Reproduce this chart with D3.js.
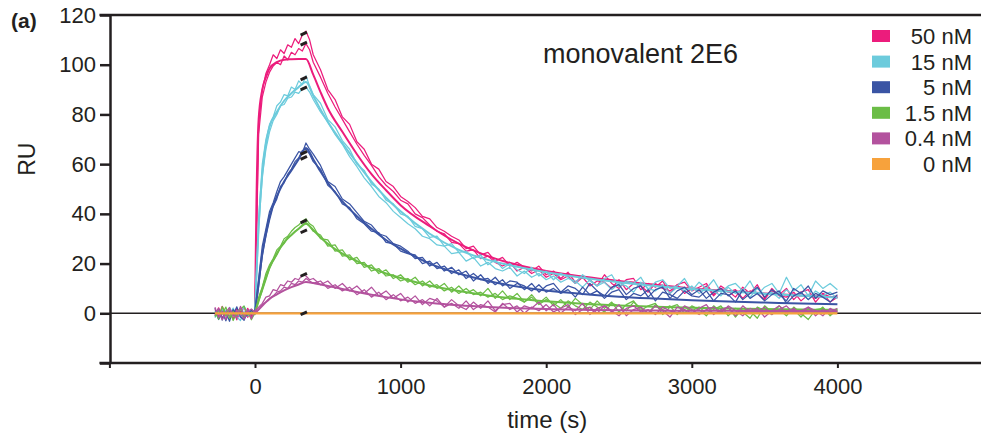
<!DOCTYPE html>
<html lang="en">
<head>
<meta charset="UTF-8">
<title>monovalent 2E6</title>
<script src="https://d3js.org/d3.v7.min.js"></script>
<style>
    body {
        margin: 0;
        background: #fff;
    }
    svg {
        display: block;
        font-family: 'Liberation Sans', Arial, sans-serif;
    }
    .trace {
        fill: none;
        stroke-linejoin: round;
    }
    .fit {
        fill: none;
        stroke-width: 2;
    }
</style>
</head>
<body>
<div id="chart"></div>
<script>
// Categories and colours
const concentrations = ['50 nM', '15 nM', '5 nM', '1.5 nM', '0.4 nM', '0 nM'];
const colors = ['#ec1c7c', '#6ccbdc', '#3a54a4', '#6bbd46', '#b3529e', '#f7a23c'];

// Axis ticks
const xTicks = [-1000, 0, 1000, 2000, 3000, 4000];
const xTickLabels = ['', '0', '1000', '2000', '3000', '4000'];
const yTicks = [-20, 0, 20, 40, 60, 80, 100, 120];
const yTickLabels = ['', '0', '20', '40', '60', '80', '100', '120'];

// Sampling clock of the raw traces (s): 25 s steps to the end of injection, then 50 s
const traceTimes = d3.range(-275, 400, 25).concat(d3.range(400, 4001, 50));

// Raw sensorgrams, two replicates per concentration (RU)
const trace50a = [
    1.5, -1.2, 2.8, -0.5, 0.8, -2.4, 1.9, 0.2, 2.5, -1.6, 1.1,
    1.0, 76, 90, 96.5, 100, 104, 102.5, 106, 104.5, 108, 107, 110.5, 108.5, 112, 113.5, 110,
    104, 98, 90, 86, 79, 76, 69, 66, 60, 58, 53, 51, 47,
    45, 42.5, 39, 38, 34.5, 33, 31, 29.5, 26, 27, 23.5, 24.5, 21, 22.5, 19, 20.5, 18.5, 17, 19, 15.5,
    17, 14, 16.5, 12.5, 15, 13.5, 11, 15.5, 12, 10, 13.5, 14, 9.5, 12, 10.5, 13, 8, 11.5, 12.5, 9,
    10.5, 12, 7.5, 11, 9, 6.5, 10.5, 8, 11.5, 6, 9, 7.5, 10, 5.5, 8.5, 9.5, 4.5, 8, 6.5, 7
];
const trace50b = [
    -0.8, 2.2, -1.9, 0.6, -1.1, 1.4, -2.6, 0.9, -0.5, 2.0, -1.3,
    0.5, 72, 87, 93, 97, 99.5, 101, 100, 103.5, 102, 105, 104, 106.5, 105.5, 108.5, 106,
    101, 95, 88.5, 83, 78, 73, 68, 63.5, 59.5, 55, 51.5, 49, 45.5,
    44, 40, 38.5, 35.5, 33, 32, 28.5, 28, 25, 25.5, 22, 23, 20.5, 19, 20.5, 17, 18.5, 16, 17.5, 14.5,
    16, 13.5, 15, 12, 14.5, 11, 13, 12.5, 10, 13.5, 9.5, 12, 11, 8.5, 12, 10, 9, 11.5, 8, 10,
    9, 11, 7, 10, 8.5, 9.5, 6, 9, 8, 5.5, 10, 7, 6.5, 8.5, 5, 7.5, 6, 8, 4.5, 6.5
];
const trace15a = [
    -1.8, 0.9, -2.8, 1.4, -0.6, 2.1, -1.5, -2.9, 0.7, -1.0, 1.6,
    0.3, 38, 60, 70, 76, 79, 83.5, 85, 88, 87.5, 91, 90, 93.5, 92, 95.5, 91.5,
    88, 84.5, 78, 75, 69.5, 66, 60, 57.5, 52, 50, 45.5, 44, 40,
    39, 35, 34, 30.5, 31, 27, 28, 24.5, 25, 22, 23.5, 19.5, 21.5, 18, 20, 17.5, 16, 18.5, 15, 17,
    13.5, 16, 14.5, 12, 15.5, 13, 11, 14, 15.5, 10.5, 13, 12, 14.5, 9.5, 12.5, 13.5, 10, 11, 14, 9,
    12.5, 10, 13.5, 8.5, 11, 12, 9, 13, 7.5, 10.5, 12, 8, 14.5, 9, 11.5, 7, 13, 10, 12, 9.5
];
const trace15b = [
    0.8, -2.2, 1.7, -1.3, 2.4, -0.9, 0.4, -1.7, 2.9, -0.3, -1.9,
    0.0, 34, 55, 66, 73, 77.5, 80, 83.5, 84, 86.5, 87, 89, 88.5, 90.5, 91, 89,
    86, 81, 77, 72, 68, 63, 59, 54.5, 51, 47, 44.5, 41, 38.5,
    36, 34, 31, 30, 27.5, 27, 24, 24.5, 21, 22.5, 19, 20.5, 18, 17, 18.5, 15, 17, 14.5, 16, 13.5,
    15, 12.5, 14, 13, 10.5, 13.5, 11, 12.5, 9.5, 12, 11, 8.5, 12.5, 10, 9, 11.5, 8, 10.5, 9, 11,
    8, 10, 9, 7, 10.5, 8, 9.5, 6.5, 10, 7.5, 8.5, 6, 9.5, 7, 8, 5.5, 9, 7, 8.5, 6
];
const trace5a = [
    2.1, -2.5, 0.4, -3.0, 1.2, -0.7, 2.6, -1.4, -2.8, 0.9, -0.4,
    0.8, 14, 27, 34, 41, 44.5, 49, 53, 55, 57.5, 60, 62.5, 65, 64.5, 68.5, 66,
    64, 59.5, 53, 51, 46, 44, 40.5, 37, 35.5, 32, 31, 28, 27,
    25, 22, 22.5, 19, 20.5, 17, 18.5, 15.5, 17, 13, 15.5, 12, 14.5, 11, 13, 12.5, 9.5, 12, 8.5, 11,
    12, 8.5, 11, 10, 7.5, 12, 9, 7, 10.5, 11.5, 7.5, 10, 11, 6.5, 9.5, 10.5, 6, 9, 10.5, 7.5,
    9.5, 6, 8.5, 10, 7, 9, 5.5, 8, 10.5, 6.5, 9.5, 7.5, 5, 10, 8, 11, 6, 9, 7.5, 8.5
];
const trace5b = [
    -1.1, 1.8, -2.2, 0.5, -3.2, 1.5, -0.3, 2.0, -1.8, -0.6, 1.3,
    -0.5, 11, 23, 31, 37.5, 43, 46, 51, 52.5, 56, 58, 61, 62.5, 65.5, 66, 64,
    61, 58, 51.5, 49, 44, 42.5, 38, 36, 33, 32.5, 28.5, 28, 25,
    24, 23.5, 20, 21, 18, 19, 16, 17.5, 14, 16, 13.5, 14, 11.5, 13.5, 10, 12, 11, 9, 11.5, 8.5,
    10, 8, 9.5, 6.5, 10.5, 7.5, 9, 6, 8.5, 9.5, 5.5, 8, 7, 9.5, 5, 8.5, 7.5, 6, 9, 7,
    6.5, 9, 5, 8, 7.5, 4.5, 9.5, 6, 8, 5, 7.5, 9, 4, 7, 8.5, 5.5, 8, 6.5, 4.5, 7.5
];
const trace1p5a = [
    0.6, -2.3, 2.7, -1.0, 1.8, -2.9, 0.3, 2.2, -1.5, 1.0, -2.6,
    0.2, 6.5, 10.5, 16, 19.5, 22, 25.5, 27, 30, 31, 33, 34.5, 35.5, 37, 38, 36,
    35, 30, 29.5, 25, 25.5, 21.5, 22.5, 18.5, 19.5, 16, 17.5, 14, 15.5,
    12.5, 14.5, 11, 13, 10, 12, 8.5, 11, 8, 9.5, 7, 10, 6, 9, 5.5, 8, 4.5, 7.5, 4, 6.5,
    3, 5.5, 2.5, 6, 3.5, 1.5, 5, 2, 4.5, 0.5, 3.5, 5, 1, 3, 4, -0.5, 2.5, 3.5, 0, 3,
    1.5, -1, 3, 0.5, 2.5, -1.5, 2, 1, -2, 3, 0.5, 1.5, -1, 2.5, 0, -2.5, 1.5, 2, -0.5, 1
];
const trace1p5b = [
    -1.4, 1.2, -0.2, 2.5, -2.0, 0.8, -1.1, 1.6, 2.9, -0.7, 0.4,
    0.5, 5, 9, 13.5, 18, 21, 23.5, 26.5, 28, 30.5, 31.5, 33, 34, 35.5, 36.5, 35,
    33, 31.5, 27, 27.5, 23, 23.5, 20, 20.5, 17, 18, 15, 15.5, 13,
    14, 11.5, 13, 10.5, 11.5, 9, 10.5, 8, 10, 7.5, 8.5, 6.5, 8, 5.5, 7, 6, 4.5, 6.5, 3.5, 5.5,
    4, 2, 5, 3, 1.5, 4.5, 2.5, 0.5, 4, 3, 1, 4.5, 2, 0, 3.5, 1.5, 3, -0.5, 2.5, 1,
    2.5, 0, 1.5, 3, -1, 2, 0.5, -2, 2.5, 1, -0.5, 3, 0.5, 1.5, -1.5, 2, 0, 2.5, -1, 1.5
];
const trace0p4a = [
    2.4, -1.7, 0.9, -2.5, 1.3, 0.1, -1.9, 2.8, -0.9, 1.5, -2.2,
    1, 2.5, 4, 6.5, 7, 9.5, 9, 11.5, 11, 13, 12.5, 14, 13.5, 15.5, 15, 13.5,
    14, 11.5, 13, 10, 12, 9, 11, 8, 10.5, 7, 9, 6, 8,
    4.5, 7, 3.5, 6, 5, 2.5, 5.5, 3, 1.5, 4.5, 2, 5, 1, 3.5, 4, 0.5, 3, 2, 4.5, 1,
    3.5, 0, 2.5, 1, 4, -0.5, 2, 3, 0.5, 3.5, -1, 1.5, 2.5, 0, 3, 1, -1.5, 2.5, 1.5, 0,
    2, 3.5, -0.5, 1.5, 2.5, -1, 3, 0.5, 2, -1.5, 1, 3, 0, 2, -0.5, 2.5, 1, -1, 2, 0.5
];
const trace0p4b = [
    -0.4, 1.9, -2.7, 0.6, 2.3, -1.2, 1.0, -0.2, -2.4, 0.8, 1.7,
    0.3, 1.5, 3.5, 4.5, 6, 7, 8.5, 9, 10.5, 10, 12, 11.5, 13, 12.5, 14, 13,
    12, 13, 10, 11.5, 9, 10.5, 7.5, 9.5, 6.5, 8.5, 5.5, 7.5, 5,
    6.5, 4, 5.5, 3, 6, 2.5, 4, 2, 5, 1.5, 3.5, 2.5, 0.5, 4, 1.5, 3, 0, 2.5, 1, 3.5,
    0.5, 2, 3.5, -0.5, 1.5, 2.5, 0, 3, 1, -1, 2, 3, 0.5, 1.5, -0.5, 2.5, 1, 0, 3, 1.5,
    -0.5, 1.5, 2.5, 0, 3, 1, -1, 2, 0.5, 2.5, -0.5, 1.5, 3, 0, 1, 2.5, -1, 1.5, 0.5, 2
];
const trace0Times = [-275, 4000];
const trace0 = [0, 0];

// Fitted curves (RU) on their own time grid (s)
const fitTimes = [0, 10, 25, 50, 75, 100, 150, 200, 250, 300, 350,
    400, 450, 500, 600, 700, 800, 900, 1000,
    1200, 1400, 1600, 1800, 2000,
    2250, 2500, 2750, 3000, 3250, 3500, 3750, 4000];
const fit50 = [0, 45, 78, 90, 95, 98.5, 101, 102, 102.2, 102.3, 102.3,
    96, 89, 82.5, 73, 64, 56, 49.5, 43.5,
    35, 28, 23, 19.5, 17,
    14.8, 13, 11.5, 10, 9, 8, 7.2, 6.5];
const fit15 = [0, 16, 35, 56, 68, 75, 81, 85.5, 88.5, 91, 93,
    87.5, 82, 77, 68.5, 60.5, 53, 46.5, 41,
    32, 25.5, 21.5, 18.7, 16.5,
    14.3, 12.5, 11, 9.8, 8.8, 7.9, 7.1, 6.4];
const fit5 = [0, 5, 12, 24, 32, 39, 47, 53, 57.5, 62, 66.5,
    62, 57, 52.5, 45, 39, 34, 29.5, 26,
    20, 16, 13, 10.8, 9.2,
    7.8, 6.7, 5.9, 5.2, 4.7, 4.3, 3.9, 3.6];
const fit1p5 = [0, 2, 5, 10, 14.5, 18.5, 24, 28.5, 31.5, 34, 36,
    33.5, 30.5, 28, 24, 21, 18.3, 16, 14.2,
    11.2, 9, 7.2, 5.8, 4.8,
    3.8, 3.1, 2.6, 2.2, 1.9, 1.7, 1.5, 1.4];
const fit0p4 = [0, 0.6, 1.5, 3, 4.5, 5.8, 7.6, 9.2, 10.5, 11.6, 12.6,
    12.2, 11.6, 11, 9.8, 8.6, 7.5, 6.5, 5.6,
    4.2, 3.2, 2.5, 2, 1.7,
    1.4, 1.2, 1.1, 1, 1, 0.9, 0.9, 0.8];

// End-of-injection marks: which concentration, and RU of the trace there
const markTime = 335;
const markConc = [0, 0, 1, 1, 2, 2, 3, 3, 4, 5];
const markValues = [112.5, 108.5, 94.5, 90.5, 64.5, 62.5, 37, 33, 15.5, 0];

// Table of series built from the arrays above
const series = [
    { traces: [trace50a, trace50b], times: traceTimes, fit: fit50 },
    { traces: [trace15a, trace15b], times: traceTimes, fit: fit15 },
    { traces: [trace5a, trace5b], times: traceTimes, fit: fit5 },
    { traces: [trace1p5a, trace1p5b], times: traceTimes, fit: fit1p5 },
    { traces: [trace0p4a, trace0p4b], times: traceTimes, fit: fit0p4 },
    { traces: [trace0], times: trace0Times, fit: null }
].map((s, i) => ({ ...s, name: concentrations[i], color: colors[i] }));

// Layout
const width = 981, height = 441;
const plot = { left: 110, right: 981, top: 15, bottom: 363 };
const ink = '#231f20';

const svg = d3.select('#chart').append('svg')
    .attr('width', width)
    .attr('height', height);

const x = d3.scaleLinear().domain([-1000, 5000]).range([109.4, 983]);
const y = d3.scaleLinear().domain([-20, 120]).range([plot.bottom, plot.top]);

// Frame lines
svg.append('line')
    .attr('x1', x(-1000) - 10).attr('x2', plot.right)
    .attr('y1', y(120)).attr('y2', y(120))
    .attr('stroke', ink).attr('stroke-width', 2.5);
svg.append('line')
    .attr('x1', x(-1000) - 10).attr('x2', plot.right)
    .attr('y1', y(-20)).attr('y2', y(-20))
    .attr('stroke', ink).attr('stroke-width', 2.5);
svg.append('line')
    .attr('x1', plot.left).attr('x2', plot.right)
    .attr('y1', y(0)).attr('y2', y(0))
    .attr('stroke', ink).attr('stroke-width', 1.5);

// Y axis
const yAxis = svg.append('g')
    .attr('transform', `translate(${plot.left},0)`)
    .call(d3.axisLeft(y)
        .tickValues(yTicks)
        .tickSize(10)
        .tickSizeOuter(0)
        .tickPadding(4)
        .tickFormat((d, i) => yTickLabels[i]));
yAxis.select('.domain').attr('stroke', ink).attr('stroke-width', 2.5);
yAxis.selectAll('.tick line').attr('stroke', ink).attr('stroke-width', 2.5);
yAxis.selectAll('.tick text')
    .attr('fill', ink)
    .style('font-size', '22px')
    .style('font-family', "'Liberation Sans', Arial, sans-serif");

// X axis
const xAxis = svg.append('g')
    .attr('transform', `translate(0,${plot.bottom})`)
    .call(d3.axisBottom(x)
        .tickValues(xTicks)
        .tickSize(5)
        .tickSizeOuter(0)
        .tickPadding(10)
        .tickFormat((d, i) => xTickLabels[i]));
xAxis.select('.domain').remove();
xAxis.selectAll('.tick line').attr('stroke', ink).attr('stroke-width', 2);
xAxis.selectAll('.tick text')
    .attr('fill', ink)
    .style('font-size', '22px')
    .style('font-family', "'Liberation Sans', Arial, sans-serif");

// Traces and fits
const traceLine = d3.line()
    .x(d => x(d[0]))
    .y(d => y(d[1]));
const fitLine = d3.line()
    .x(d => x(d[0]))
    .y(d => y(d[1]))
    .curve(d3.curveMonotoneX);

const curves = svg.append('g');
series.forEach(s => {
    const g = curves.append('g');
    s.traces.forEach(values => {
        g.append('path')
            .attr('class', 'trace')
            .attr('stroke', s.color)
            .attr('stroke-width', s.fit ? 1.25 : 2.2)
            .attr('d', traceLine(values.map((v, i) => [s.times[i], v])));
    });
    if (s.fit) {
        g.append('path')
            .attr('class', 'fit')
            .attr('stroke', s.color)
            .attr('d', fitLine(s.fit.map((v, i) => [fitTimes[i], v])));
    }
});

// End-of-injection marks
svg.append('g').selectAll('rect')
    .data(markValues)
    .enter().append('rect')
    .attr('x', -3.5).attr('y', -1.5)
    .attr('width', 7).attr('height', 3)
    .attr('fill', ink)
    .attr('transform', d => `translate(${x(markTime)},${y(d)}) rotate(-25)`);

// Labels
svg.append('text')
    .attr('x', 11).attr('y', 28)
    .attr('font-size', 21)
    .attr('font-weight', 'bold')
    .attr('fill', ink)
    .text('(a)');

svg.append('text')
    .attr('transform', `translate(35,${y(60) - 5}) rotate(-90)`)
    .attr('text-anchor', 'middle')
    .attr('font-size', 23)
    .attr('fill', ink)
    .text('RU');

svg.append('text')
    .attr('x', (x(0) + x(4000)) / 2 + 1).attr('y', 428)
    .attr('text-anchor', 'middle')
    .attr('font-size', 24)
    .attr('fill', ink)
    .text('time (s)');

svg.append('text')
    .attr('x', 543).attr('y', 63)
    .attr('font-size', 27)
    .attr('fill', ink)
    .text('monovalent 2E6');

// Legend
const legend = svg.append('g').attr('transform', 'translate(872,36)');
const rows = legend.selectAll('g')
    .data(series)
    .enter().append('g')
    .attr('transform', (d, i) => `translate(0,${i * 25.6})`);
rows.append('rect')
    .attr('x', 0).attr('y', -6)
    .attr('width', 18).attr('height', 12)
    .attr('fill', d => d.color);
rows.append('text')
    .attr('x', 100).attr('y', 8)
    .attr('text-anchor', 'end')
    .attr('font-size', 22)
    .attr('fill', ink)
    .text(d => d.name);
</script>
</body>
</html>
